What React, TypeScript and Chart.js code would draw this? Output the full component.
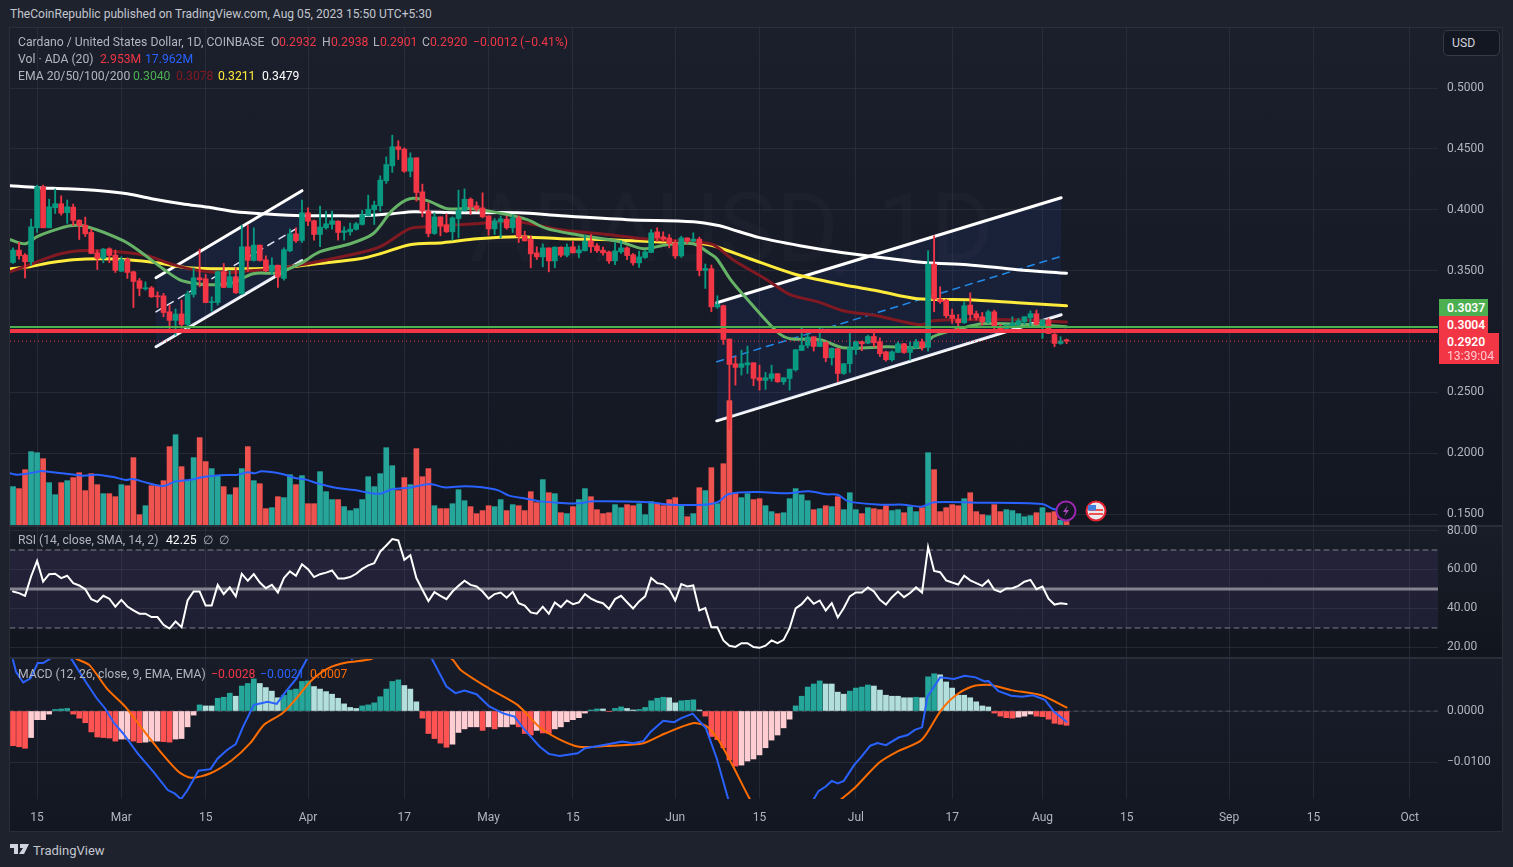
import React, { useEffect, useRef } from 'react';
import { Chart, registerables } from 'chart.js';
Chart.register(...registerables);

// ---- readings (bar number 0 = 11 Feb 2023, 175 = 5 Aug 2023)
const highsRead = [.3695,.3739,.3648,.3931,.4210,.4210,.4095,.4177,.4122,.4087,.4054,.3925,.3947,.3848,.3676,.3689,.3695,.3676,.3621,.3613,.3503,.3443,.3415,.3377,.3333,.3320,.3224,.3191,.3265,.3339,.3530,.3684,.3476,.3292,.3503,.3566,.3503,.3530,.3881,.3881,.3859,.3717,.3629,.3613,.3552,.3695,.3848,.3859,.4087,.4024,.3922,.4037,.3996,.3996,.3917,.3867,.3898,.3903,.4002,.4127,.4078,.4286,.4442,.4620,.4574,.4516,.4475,.4434,.4218,.4064,.3982,.3949,.3974,.3949,.4168,.4179,.4105,.4072,.4146,.3957,.3935,.3957,.3955,.3963,.3957,.3831,.3790,.3703,.3727,.3694,.3703,.3703,.3727,.3749,.3711,.3798,.3804,.3730,.3700,.3667,.3738,.3752,.3703,.3648,.3667,.3675,.3845,.3859,.3826,.3804,.3757,.3790,.3776,.3818,.3782,.3561,.3553,.3301,.3224,.2945,.2799,.2854,.2887,.2750,.2731,.2671,.2731,.2662,.2627,.2698,.2860,.3040,.3024,.2964,.3043,.2917,.2873,.2868,.2745,.2991,.2928,.2928,.2977,.3005,.2955,.2846,.2849,.2923,.2909,.2923,.2942,.2945,.3671,.3794,.3375,.3273,.3191,.3147,.3251,.3325,.3175,.3164,.3183,.3183,.3065,.3060,.3128,.3114,.3128,.3177,.3183,.3106,.3114,.2991,.2964,.2945];
const lowsRead = [.3566,.3602,.3448,.3552,.3821,.3859,.3859,.3977,.3963,.3895,.3876,.3763,.3788,.3648,.3517,.3572,.3572,.3492,.3498,.3443,.3204,.3300,.3347,.3287,.3204,.3128,.3032,.2977,.3032,.3032,.3289,.3374,.3243,.3174,.3224,.3366,.3366,.3320,.3311,.3503,.3585,.3585,.3498,.3476,.3369,.3429,.3662,.3739,.3739,.3876,.3758,.3703,.3848,.3848,.3758,.3758,.3799,.3840,.3881,.3957,.3886,.3996,.4223,.4314,.4420,.4314,.4278,.4078,.3949,.3785,.3804,.3793,.3820,.3757,.3777,.3996,.3968,.3996,.3941,.3798,.3804,.3777,.3848,.3820,.3738,.3749,.3530,.3598,.3538,.3497,.3530,.3620,.3620,.3653,.3612,.3670,.3656,.3656,.3634,.3566,.3557,.3648,.3598,.3552,.3533,.3607,.3656,.3749,.3749,.3694,.3607,.3615,.3730,.3744,.3464,.3361,.3169,.3197,.2901,.2201,.2566,.2649,.2662,.2561,.2525,.2531,.2599,.2588,.2572,.2525,.2681,.2849,.2873,.2846,.2882,.2758,.2731,.2594,.2654,.2671,.2818,.2849,.2906,.2879,.2802,.2764,.2764,.2832,.2827,.2772,.2868,.2854,.2846,.3169,.3238,.3120,.3073,.3000,.3073,.3101,.3101,.3060,.3073,.3005,.3010,.2999,.3046,.3054,.3065,.3046,.3060,.2950,.2991,.2882,.2901,.2908];
const opensRead = [.3574,.3676,.3635,.3580,.3859,.4196,.3859,.4024,.4057,.3983,.4029,.3922,.3881,.3821,.3654,.3607,.3687,.3635,.3503,.3599,.3498,.3424,.3358,.3366,.3300,.3300,.3169,.3098,.3152,.3065,.3311,.3448,.3440,.3245,.3245,.3498,.3369,.3457,.3317,.3703,.3591,.3717,.3596,.3503,.3552,.3443,.3670,.3810,.3755,.3983,.3917,.3804,.3859,.3887,.3914,.3821,.3826,.3846,.3887,.3957,.4007,.4040,.4245,.4368,.4525,.4505,.4324,.4434,.4155,.3996,.3812,.3949,.3883,.3826,.3935,.4001,.4094,.4040,.4023,.3957,.3850,.3908,.3930,.3859,.3941,.3790,.3763,.3653,.3620,.3694,.3587,.3700,.3634,.3703,.3653,.3670,.3752,.3711,.3675,.3661,.3587,.3661,.3694,.3637,.3571,.3615,.3656,.3826,.3785,.3776,.3735,.3628,.3776,.3749,.3766,.3509,.3523,.3208,.3219,.2945,.2742,.2712,.2733,.2750,.2627,.2605,.2621,.2660,.2594,.2621,.2692,.2851,.2892,.2964,.2884,.2917,.2791,.2865,.2662,.2742,.2860,.2923,.2912,.2966,.2923,.2840,.2775,.2835,.2906,.2835,.2873,.2923,.2876,.3561,.3273,.3265,.3142,.3109,.3079,.3224,.3153,.3128,.3087,.3169,.3046,.3027,.3057,.3065,.3087,.3120,.3153,.3054,.3098,.2983,.2909,.2939];
const closesRead = [.3676,.3629,.3580,.3867,.4196,.3859,.4032,.4057,.3980,.4032,.3920,.3878,.3810,.3648,.3607,.3684,.3632,.3509,.3599,.3492,.3418,.3361,.3366,.3292,.3292,.3163,.3098,.3150,.3065,.3317,.3448,.3432,.3245,.3251,.3498,.3369,.3457,.3325,.3703,.3591,.3717,.3591,.3506,.3552,.3454,.3679,.3810,.3752,.3983,.3914,.3804,.3865,.3892,.3917,.3821,.3835,.3848,.3892,.3966,.4012,.4045,.4251,.4379,.4525,.4503,.4324,.4434,.4149,.3996,.3812,.3949,.3875,.3826,.3941,.4004,.4094,.4031,.4012,.3949,.3850,.3916,.3933,.3859,.3941,.3785,.3752,.3645,.3620,.3694,.3587,.3700,.3634,.3700,.3653,.3678,.3749,.3703,.3670,.3653,.3587,.3670,.3694,.3631,.3571,.3620,.3661,.3818,.3776,.3766,.3730,.3628,.3776,.3749,.3766,.3508,.3525,.3210,.3230,.2942,.2736,.2712,.2742,.2750,.2621,.2605,.2627,.2660,.2594,.2627,.2698,.2857,.2892,.2961,.2884,.2928,.2791,.2868,.2662,.2742,.2873,.2923,.2906,.2966,.2914,.2824,.2775,.2840,.2906,.2835,.2876,.2923,.2876,.3561,.3273,.3251,.3136,.3114,.3079,.3219,.3147,.3120,.3087,.3169,.3038,.3024,.3060,.3073,.3095,.3128,.3153,.3065,.3101,.2991,.2909,.2928,.2927];
const volumes = [32.8,31.1,47.3,62.7,61.8,56.7,36.2,25.9,36.2,37.9,40.5,44.7,29.4,43.9,34.5,26.8,26.8,24.2,34.5,33.6,57.6,8.8,16.5,33.6,33.6,37.9,67,77.2,49.9,37.9,57.6,74.7,54.2,48.2,42.2,32.8,25.9,31.9,48.2,67,37.9,35.3,14,14.8,24.2,23.4,43,34.5,42.2,18.2,18.2,45.6,28.5,21.7,21.7,15.7,12.3,14,21.7,41.3,32.8,43.9,66.1,50.7,29.4,40.5,34.5,65.3,41.3,48.2,16.5,14,14,18.2,30.2,20.8,15.7,9.7,12.3,16.5,15.7,21.7,12.3,17.4,16.5,12.3,28.5,19.1,38.8,27.6,26.8,10.5,9.7,15.7,21.7,31.1,24.2,13.1,9.7,10.5,17.4,14.8,17.4,16.5,18.2,8.8,20,18.2,16.5,21.7,23.4,16.5,7.1,9.7,31.9,29.4,49,18.2,52.4,106.3,26.8,23.4,26.8,21.7,22.5,16.5,11.4,9.7,10.5,22.5,31.1,25.9,20.8,13.1,14,16.5,15.7,24.2,13.1,27.6,13.1,9.7,14.8,14,13.1,16.5,12.3,13.1,10.5,15.7,11.4,14.8,61.8,47.3,11.4,14.8,17.4,16.5,22.5,27.6,11.4,8.8,8,17.4,11.4,13.1,12.3,9.7,7.1,8,10.5,14.8,10.5,11.4,4,2.953];
const rsiValues = [48.7,47.9,46.5,56.4,64.4,53.8,57.6,57.8,55.6,56.8,53,51.8,49.9,44.8,43.4,46.5,45,40.9,44.4,41,39,37.3,37.3,35.6,35.6,31.6,29.7,33.3,30.4,44.1,48.7,48.7,41.5,41.5,52.1,47.4,50.8,46.2,57.8,54.2,57.6,53.3,50.4,52.1,48.2,55.6,59,56.8,62.7,60.2,56.1,57.6,58.4,59.5,55.4,55.4,56.1,57.8,60.3,62.1,63.2,69.2,72.3,75.6,74.9,65,67.3,55.6,49.6,43.8,48.4,46.5,44.8,48.7,51.6,54.2,52.1,51.3,48.7,45.1,47.4,48.2,45.5,48.5,42.7,41.5,38,37.3,40.9,37.3,43.1,40.7,44.1,42.2,43.1,47.4,45.1,43.6,42.7,39.8,44.8,46.5,43.2,40,43.6,46.2,55.6,53,52.5,49.9,44.1,52.5,51.3,51.8,39,40.2,30.3,30.3,23.6,20.9,20.3,22.2,22.2,20.2,19.8,20.9,23.6,22.2,23.9,29.9,40,42.2,45.8,42.4,44.1,39,42.7,35.4,40.2,46.2,48.2,48.2,50.8,48.7,44.4,42,45.8,48.7,45.8,47.9,50.8,48.2,71.5,59.3,58.6,54.4,53.3,52.3,56.8,54.4,53,51.6,54.4,49.6,48.5,50.3,50.4,51.6,53.7,54.7,49.9,51.3,45,42,42.7,42.25];
const macdHist = [-.0068,-.0070,-.0073,-.0052,-.0017,-.0017,-.0006,.0003,.0004,.0005,-.0006,-.0014,-.0023,-.0041,-.0051,-.0052,-.0053,-.0059,-.0055,-.0055,-.0059,-.0062,-.0061,-.0059,-.0059,-.0060,-.0061,-.0055,-.0054,-.0031,-.0008,.0012,.0010,.0010,.0025,.0027,.0035,.0029,.0049,.0054,.0063,.0054,.0046,.0039,.0026,.0031,.0041,.0043,.0058,.0059,.0048,.0043,.0038,.0033,.0025,.0014,.0007,.0005,.0010,.0012,.0016,.0028,.0043,.0058,.0061,.0050,.0043,.0018,-.0014,-.0044,-.0054,-.0063,-.0071,-.0065,-.0042,-.0035,-.0031,-.0031,-.0038,-.0031,-.0035,-.0031,-.0031,-.0026,-.0031,-.0044,-.0047,-.0038,-.0043,-.0044,-.0035,-.0031,-.0021,-.0017,-.0013,-.0004,.0002,.0004,.0004,-.0001,.0005,.0008,.0005,.0002,.0003,.0007,.0020,.0025,.0027,.0026,.0016,.0020,.0021,.0022,.0002,-.0010,-.0050,-.0056,-.0072,-.0096,-.0108,-.0106,-.0098,-.0094,-.0086,-.0072,-.0057,-.0047,-.0033,-.0016,.0010,.0029,.0047,.0053,.0059,.0053,.0053,.0037,.0033,.0039,.0045,.0047,.0051,.0049,.0041,.0031,.0029,.0029,.0026,.0026,.0027,.0026,.0067,.0073,.0071,.0057,.0045,.0031,.0031,.0026,.0018,.0010,.0008,-.0004,-.0010,-.0013,-.0014,-.0012,-.0010,-.0006,-.0010,-.0011,-.0016,-.0024,-.0026,-.0028];

const ema20Bars = [-.5,2,4,6.1,9.5,12.3,18.3,21.6,24.9,27.7,30.6,33.2,36.5,39.9,43.9,47.7,51,56,59.8,63.1,65.9,68.8,72.1,76.4,81.4,85.4,88.7,93.7,100.8,104.7,108.6,113,115.8,116.9,119.1,121.3,126.9,129.1,134.1,137.9,145.2,151.2,152.8,157.3,161.1,169.4,175];
const ema20Read = [.3761,.3728,.3786,.3827,.3876,.3868,.3753,.3646,.3523,.3432,.3400,.3391,.3408,.3482,.3490,.3564,.3663,.3728,.3810,.4008,.4098,.4082,.4016,.4016,.3975,.3926,.3852,.3802,.3745,.3687,.3720,.3728,.3646,.3605,.3440,.3309,.3005,.2948,.2939,.2873,.2881,.2881,.2964,.3030,.3071,.3063,.3047];
const ema50Bars = [-.5,2.8,7.3,11.1,17.3,22.3,26.6,31.1,35.5,39.4,43.9,50.5,57.6,61,65.9,68.8,77.1,83.7,90.9,99.2,104.7,113,116.3,119.6,125.2,129.1,133.6,137.9,143.5,150.7,152.8,158.5,166.8,175];
const ema50Read = [.3498,.3556,.3638,.3671,.3663,.3630,.3556,.3506,.3490,.3506,.3523,.3580,.3654,.3704,.3852,.3868,.3893,.3909,.3843,.3802,.3769,.3745,.3720,.3597,.3432,.3309,.3252,.3178,.3136,.3062,.3095,.3104,.3104,.3085];
const ema100Bars = [-.5,2.8,6.1,10,14.5,18.9,23.9,28.9,33.9,39.4,44.9,50.5,57.6,61,65.9,71.4,77.1,83.7,90.9,99.2,106.3,113,116.3,122.4,129.6,137.9,143.5,150.2,158.5,166.8,175];
const ema100Read = [.3523,.3539,.3572,.3597,.3605,.3597,.3572,.3531,.3523,.3523,.3531,.3564,.3605,.3646,.3720,.3737,.3769,.3786,.3769,.3761,.3745,.3737,.3712,.3605,.3482,.3391,.3342,.3276,.3268,.3243,.3218];
const ema200Bars = [-.5,4,9,14.5,19,23,28,33,37,41.5,48,53,58,63,66.5,74,84,91,102,113,117.4,119,124,130.7,137.9,144.5,151.8,158.5,166.8,175];
const ema200Read = [.4205,.4189,.4180,.4164,.4139,.4098,.4057,.4024,.3991,.3975,.3958,.3958,.3958,.3975,.3991,.3983,.3983,.3958,.3926,.3909,.3876,.3852,.3778,.3712,.3654,.3613,.3572,.3556,.3515,.3486];

const volMaBars = [-.5,.7,3.6,4.7,8.1,11.6,13.9,16.7,18.7,19.9,22.4,25,27,29.3,31.6,34.4,37.3,39,40.1,41.3,44.7,47,48.7,50.4,53.8,56.7,59.6,61,63,65.9,69.3,71.6,75,77.9,80.7,82.4,85.3,87.5,90.5,93.5,96.6,105.6,109.2,114.7,117.1,118.9,123.7,128.6,132.2,135.2,137,138.8,144.3,147.9,150.9,153,160,170.9,173,175];
const volMaValues = [44.2,43,45,46.2,44.2,42.2,43,41,38.5,39.3,35.9,33.3,37.3,38.5,41,42.5,43,45,44.2,45.9,43.6,39.9,38.8,35.9,31.6,29.9,27.1,26.8,30.5,31.9,35.1,32.2,33.1,32.2,29.4,25.1,22.5,20.2,19.1,18.5,20.2,19.4,17.4,17.4,19.7,26.5,28.2,27.1,28.8,26.2,25.9,20.2,17.4,17.4,15.7,19.4,19.1,18,13.4,13];

const macdBars = [0,.5,1.7,2.9,4.1,5,6.1,7.6,9.1,9.7,12.1,13.9,15.3,16.8,18.3,20.7,23.3,25.7,26.9,27.9,29,30.8,32.8,34,35.5,37,38.2,40,42.3,43.8,45.3,47.1,48.8,51.2,53.6,56.3,58.3,63.1,66.6,69.6,72,73.5,75,77,79.1,81.5,83.3,85,87.5,89,90.8,93.8,95,97.9,101.2,103,104.7,105.9,108,109.8,111,112.9,115.1,116.9,119,120,122,126,129,131,132.6,133.8,135,136,137,138,139.7,140.9,142.4,143.6,145,147.1,148.6,149.8,151,151.9,154,156.3,158.1,159.9,161.4,162,163.7,165.8,167.6,169.4,171.4,172.9,175];
const macdLine = [.0100,.0077,.0056,.0064,.0094,.0094,.0102,.0130,.0123,.0102,.0057,.0025,.0005,-.0024,-.0044,-.0083,-.0119,-.0155,-.0162,-.0173,-.0155,-.0117,-.0114,-.0093,-.0077,-.0065,-.0031,.0012,.0018,.0014,.0038,.0064,.0102,.0149,.0149,.0102,.0130,.0188,.0143,.0102,.0048,.0035,.0040,.0033,.0009,-.0005,-.0011,-.0037,-.0070,-.0084,-.0088,-.0083,-.0073,-.0067,-.0060,-.0063,-.0059,-.0041,-.0019,-.0022,-.0014,-.0005,-.0034,-.0093,-.0181,-.0215,-.0250,-.0265,-.0240,-.0215,-.0181,-.0157,-.0148,-.0137,-.0142,-.0137,-.0106,-.0090,-.0068,-.0063,-.0067,-.0052,-.0047,-.0037,-.0032,.0028,.0066,.0063,.0069,.0066,.0058,.0059,.0039,.0030,.0028,.0031,.0022,-.0001,-.0021];
const signalBars = [0,5,10.6,12.7,15.6,18.6,21.6,24.5,27.5,29.6,32.8,36.4,39.4,41.7,44.7,47.1,49.4,52.4,55.4,59.5,63.1,69,72.9,74.4,79.1,83.8,87.4,90.5,94,99.4,104.7,108.3,112.9,115.1,117.2,119.5,122.8,126,129,133.2,136.8,139.7,143.9,146.8,150.9,154,156.3,159.3,162.3,165.8,170.8,175];
const signalLine = [.0170,.0140,.0102,.0090,.0044,.0009,-.0037,-.0080,-.0119,-.0131,-.0122,-.0096,-.0063,-.0027,-.0005,.0025,.0058,.0084,.0095,.0102,.0123,.0129,.0102,.0080,.0044,.0012,-.0031,-.0054,-.0070,-.0068,-.0063,-.0044,-.0024,-.0029,-.0057,-.0106,-.0181,-.0230,-.0247,-.0230,-.0181,-.0152,-.0101,-.0080,-.0057,-.0001,.0028,.0048,.0051,.0041,.0031,.0007];

const channelABars = [23.75, 48];
const channelAUpper = [.3449, .4164];
const channelAMiddle = [.3169, .3880];
const channelALower = [.2882, .3589];
const channelBBars = [116.9, 174.1];
const channelBUpper = [.3243, .4106];
const channelBMiddle = [.2758, .3625];
const channelBLower = [.2273, .3145];
const greenLevel = 0.3037;
const redLevel = 0.3004;
const lastClose = 0.2920;

const priceTicks = [.15,.2,.25,.3,.35,.4,.45,.5];
const rsiTicks = [20,40,60,80];
const macdTicks = [-.01,0];
const dateBars = [4,18,32,49,65,79,93,110,124,140,156,171,185,202,216,232];
const dateLabels = ['15','Mar','15','Apr','17','May','15','Jun','15','Jul','17','Aug','15','Sep','15','Oct'];

// the readings sit this far above the printed price scale
const READ_OFFSET = 0.0007;
const fix = (a: number[]) => a.map((v) => +(v - READ_OFFSET).toFixed(4));
const highs = fix(highsRead), lows = fix(lowsRead), opens = fix(opensRead), closes = fix(closesRead);

const FONT = 'Roboto, sans-serif';
const UP = '#089981', DOWN = '#f23645', GRID = 'rgba(54,58,70,0.5)', TEXT = '#b2b5be';
const X_MIN = -0.5, X_MAX = 236.7, AXIS_W = 64, PAD = 10;

const xy = (xs: number[], ys: number[]) => xs.map((x, i) => ({ x, y: ys[i] }));
const flat = (y: number) => [{ x: X_MIN, y }, { x: X_MAX, y }];
const line = (data: any[], color: string, width: number, order: number, yAxisID = 'y', extra: any = {}) => ({
  type: 'line', data, yAxisID, order, borderColor: color, borderWidth: width, pointRadius: 0, tension: 0, fill: false, borderCapStyle: 'round', ...extra,
});
const xScale = (labels: boolean) => ({
  type: 'linear', min: X_MIN, max: X_MAX, offset: false,
  afterBuildTicks: (s: any) => { s.ticks = dateBars.map((value) => ({ value })); },
  afterFit: (s: any) => { s.paddingLeft = 0; s.paddingRight = 0; s.height = labels ? 32 : 0; },
  grid: { color: GRID, drawTicks: false, offset: false },
  border: { display: false },
  ticks: {
    display: labels, autoSkip: false, maxRotation: 0, minRotation: 0, padding: 12, color: TEXT,
    font: { family: FONT, size: 12 },
    callback: (v: number) => dateLabels[dateBars.indexOf(v)] ?? '',
  },
});
const yScale = (min: number, max: number, ticks: number[], fmt: (v: number) => string) => ({
  type: 'linear', position: 'right', min, max,
  afterBuildTicks: (s: any) => { s.ticks = ticks.map((value) => ({ value })); },
  afterFit: (s: any) => { s.width = AXIS_W; s.paddingTop = 0; s.paddingBottom = 0; },
  grid: { color: GRID, drawTicks: false },
  border: { display: false },
  ticks: { padding: 9, color: TEXT, font: { family: FONT, size: 12 }, callback: fmt },
});
const base = {
  responsive: false, animation: false, devicePixelRatio: 1, events: [],
  layout: { padding: { top: PAD, left: 0, right: 0, bottom: 0 } },
  plugins: { legend: { display: false }, tooltip: { enabled: false } },
};

function priceConfig(): any {
  const bars = closes.map((_, i) => i);
  const colors = closes.map((c, i) => (c >= opens[i] ? UP : DOWN));
  const volColors = closes.map((c, i) => (c >= opens[i] ? '#26a69a' : '#ef5350'));
  const channelFill = 'rgba(41,70,170,0.14)';
  return {
    type: 'bar',
    data: {
      datasets: [
        { type: 'bar', yAxisID: 'v', order: 20, grouped: false, barThickness: 5, data: xy(bars, volumes), backgroundColor: volColors },
        line(xy(volMaBars, volMaValues), '#2962ff', 2, 19, 'v', { tension: 0.3 }),
        line(xy(channelABars, fix(channelAUpper)), '#ffffff', 3, 25, 'y', { fill: { target: 3 }, backgroundColor: channelFill }),
        line(xy(channelABars, fix(channelALower)), '#ffffff', 3, 25),
        line(xy(channelABars, fix(channelAMiddle)), '#ffffff', 1.5, 25, 'y', { borderDash: [7, 6] }),
        line(xy(channelBBars, fix(channelBUpper)), '#ffffff', 3, 25, 'y', { fill: { target: 6 }, backgroundColor: channelFill }),
        line(xy(channelBBars, fix(channelBLower)), '#ffffff', 3, 25),
        line(xy(channelBBars, fix(channelBMiddle)), '#2196f3', 1.5, 25, 'y', { borderDash: [7, 6] }),
        line(xy(ema200Bars, fix(ema200Read)), '#ffffff', 3, 9, 'y', { tension: 0.3 }),
        line(xy(ema100Bars, fix(ema100Read)), '#ffeb3b', 3, 8, 'y', { tension: 0.3 }),
        line(xy(ema50Bars, fix(ema50Read)), '#801922', 3, 7, 'y', { tension: 0.3 }),
        line(xy(ema20Bars, fix(ema20Read)), '#66b266', 3, 6, 'y', { tension: 0.3 }),
        { type: 'bar', order: 5, grouped: false, barThickness: 1.2, data: bars.map((x) => ({ x, y: [lows[x], highs[x]] })), backgroundColor: colors },
        { type: 'bar', order: 4, grouped: false, barThickness: 5, minBarLength: 1, data: bars.map((x) => ({ x, y: [opens[x], closes[x]] })), backgroundColor: colors },
        line(flat(greenLevel), '#4caf50', 2, 1),
        line(flat(redLevel), DOWN, 4, 1),
        line(flat(lastClose), DOWN, 1, 1, 'y', { borderDash: [1, 3], borderCapStyle: 'butt' }),
      ],
    },
    options: {
      ...base,
      scales: {
        x: xScale(false),
        y: yScale(0.141, 0.5502, priceTicks, (v) => v.toFixed(4)),
        v: { display: false, min: 0, max: 425.8 },
      },
    },
  };
}

function rsiConfig(): any {
  const bars = rsiValues.map((_, i) => i);
  const dash = { borderDash: [5, 4] };
  return {
    type: 'line',
    data: {
      datasets: [
        line(flat(70), 'rgba(160,162,172,0.75)', 1, 5, 'y', { ...dash, fill: { target: 1 }, backgroundColor: 'rgba(126,87,194,0.12)' }),
        line(flat(30), 'rgba(160,162,172,0.75)', 1, 5, 'y', dash),
        line(flat(50), '#84838f', 3, 4),
        line(xy(bars, rsiValues), '#ffffff', 2, 1, 'y', { borderJoinStyle: 'miter' }),
      ],
    },
    options: { ...base, scales: { x: xScale(false), y: yScale(15.1, 81.8, rsiTicks, (v) => v.toFixed(2)) } },
  };
}

function macdConfig(): any {
  const bars = macdHist.map((_, i) => i);
  const colors = macdHist.map((v, i) => {
    const prev = i ? macdHist[i - 1] : 0;
    if (v >= 0) return v > prev ? '#26a69a' : '#b2dfdb';
    return v < prev ? '#ff5252' : '#ffcdd2';
  });
  return {
    type: 'bar',
    data: {
      datasets: [
        line(flat(0), 'rgba(120,123,134,0.55)', 1, 9, 'y', { borderDash: [4, 4] }),
        { type: 'bar', order: 5, grouped: false, barThickness: 5, data: xy(bars, macdHist), backgroundColor: colors },
        line(xy(signalBars, signalLine), '#ff6d00', 2, 2, 'y', { tension: 0.25 }),
        line(xy(macdBars, macdLine), '#2962ff', 2, 1),
      ],
    },
    options: {
      ...base,
      scales: {
        x: xScale(true),
        y: yScale(-0.01725, 0.0102, macdTicks, (v) => (v < 0 ? '\u2212' + Math.abs(v).toFixed(4) : v.toFixed(4))),
      },
    },
  };
}

type TP = { x: number; y: number; c?: string; s?: number; w?: number; children: React.ReactNode };
const T = ({ x, y, c = TEXT, s = 12.2, w = 400, children }: TP) => (
  <span style={{ position: 'absolute', left: x, top: y, transform: 'translateY(-50%)', color: c, fontSize: s, fontWeight: w, whiteSpace: 'nowrap', lineHeight: 1 }}>{children}</span>
);
const Box = ({ l, t, w, h, bg }: { l: number; t: number; w: number; h: number; bg: string }) => (
  <div style={{ position: 'absolute', left: l, top: t, width: w, height: h, background: bg }} />
);
const PANES = [
  { top: 27, h: 498 },
  { top: 527, h: 130 },
  { top: 659, h: 140, extra: 32 },
];

export default function App() {
  const a = useRef<HTMLCanvasElement>(null);
  const b = useRef<HTMLCanvasElement>(null);
  const c = useRef<HTMLCanvasElement>(null);
  useEffect(() => {
    const charts = [new Chart(a.current!, priceConfig()), new Chart(b.current!, rsiConfig()), new Chart(c.current!, macdConfig())];
    return () => charts.forEach((x) => x.destroy());
  }, []);
  const refs = [a, b, c];
  return (
    <div style={{ position: 'absolute', left: 0, top: 0, width: 1513, height: 867, overflow: 'hidden', background: '#1e222d', fontFamily: FONT }}>
      <T x={10} y={14} c="#c3c6ce" s={12.05}>TheCoinRepublic published on TradingView.com, Aug 05, 2023 15:50 UTC+5:30</T>
      <Box l={9} t={27} w={1494} h={805} bg="#2a2e39" />
      <Box l={10} t={28} w={1492} h={497} bg="linear-gradient(#1b1f2c,#131722)" />
      <Box l={10} t={527} w={1492} h={130} bg="linear-gradient(#191d28,#11151d)" />
      <Box l={10} t={659} w={1492} h={172} bg="linear-gradient(#181c28,#131722)" />
      <T x={470} y={228} c="rgba(255,255,255,0.018)" s={96}>ADAUSD, 1D</T>
      <T x={400} y={332} c="rgba(255,255,255,0.018)" s={48}>Cardano / United States Dollar</T>
      {PANES.map((p, i) => (
        <canvas key={i} ref={refs[i]} width={1492} height={p.h + (p.extra ?? 0) + PAD}
          style={{ position: 'absolute', left: 10, top: p.top - PAD, display: 'block' }} />
      ))}

      <T x={18} y={42}>Cardano / United States Dollar, 1D, COINBASE</T>
      <T x={271} y={42}>O</T><T x={279} y={42} c={DOWN}>0.2932</T>
      <T x={322} y={42}>H</T><T x={331} y={42} c={DOWN}>0.2938</T>
      <T x={373} y={42}>L</T><T x={380} y={42} c={DOWN}>0.2901</T>
      <T x={422} y={42}>C</T><T x={430} y={42} c={DOWN}>0.2920</T>
      <T x={473} y={42} c={DOWN}>{'\u22120.0012'}</T><T x={520} y={42} c={DOWN}>{'(\u22120.41%)'}</T>
      <T x={18} y={59}>Vol · ADA (20)</T>
      <T x={100} y={59} c={DOWN}>2.953M</T><T x={145} y={59} c="#2962ff">17.962M</T>
      <T x={18} y={76}>EMA 20/50/100/200</T>
      <T x={133} y={76} c="#4caf50">0.3040</T><T x={176} y={76} c="#801922">0.3078</T>
      <T x={218} y={76} c="#ffeb3b">0.3211</T><T x={262} y={76} c="#ffffff">0.3479</T>

      <T x={18} y={540}>RSI (14, close, SMA, 14, 2)</T>
      <T x={166} y={540} c="#ffffff">42.25</T>
      <T x={203} y={540}>∅</T><T x={219} y={540}>∅</T>

      <T x={18} y={674}>MACD (12, 26, close, 9, EMA, EMA)</T>
      <T x={211} y={674} c={DOWN}>{'\u22120.0028'}</T>
      <T x={260} y={674} c="#2962ff">{'\u22120.0021'}</T>
      <T x={310} y={674} c="#ff6d00">0.0007</T>

      <div style={{ position: 'absolute', left: 1443, top: 30, width: 55, height: 24, border: '1px solid #363a45', borderRadius: 5, background: '#131722' }} />
      <T x={1452} y={43} c="#d1d4dc">USD</T>

      <Box l={1439} t={299} w={49} h={17} bg="#4caf50" />
      <T x={1447} y={308} c="#ffffff" w={600}>0.3037</T>
      <Box l={1439} t={316} w={49} h={18} bg={DOWN} />
      <T x={1447} y={325} c="#ffffff" w={600}>0.3004</T>
      <Box l={1439} t={333} w={60} h={31} bg={DOWN} />
      <T x={1447} y={342} c="#ffffff" w={600}>0.2920</T>
      <T x={1447} y={356} c="#ffc9cf">13:39:04</T>

      <svg width="60" height="26" style={{ position: 'absolute', left: 1055, top: 498 }}>
        <circle cx="11" cy="13" r="9.5" fill="#131722" stroke="#9c27b0" strokeWidth="2" />
        <path d="M13 7 L8 14 L11 14 L9 19 L14 12 L11 12 Z" fill="#ab47bc" />
        <circle cx="41" cy="13" r="9.5" fill="#e8e8ee" stroke="#e0242f" strokeWidth="2" />
        <rect x="34" y="11" width="14" height="2" fill="#ef5350" />
        <rect x="34" y="15" width="14" height="2" fill="#ef5350" />
        <path d="M33 7 H41 V12.5 H33 Z" fill="#3f7fe0" />
      </svg>

      <svg width="20" height="12" style={{ position: 'absolute', left: 10, top: 844 }}>
        <path d="M0 0 H8 V10 H4 V4 H0 Z M10 0 H19 L14 10 H9 L13 4 H10 Z" fill="#d1d4dc" />
      </svg>
      <T x={33} y={850} c="#c3c6ce" s={13}>TradingView</T>
    </div>
  );
}
